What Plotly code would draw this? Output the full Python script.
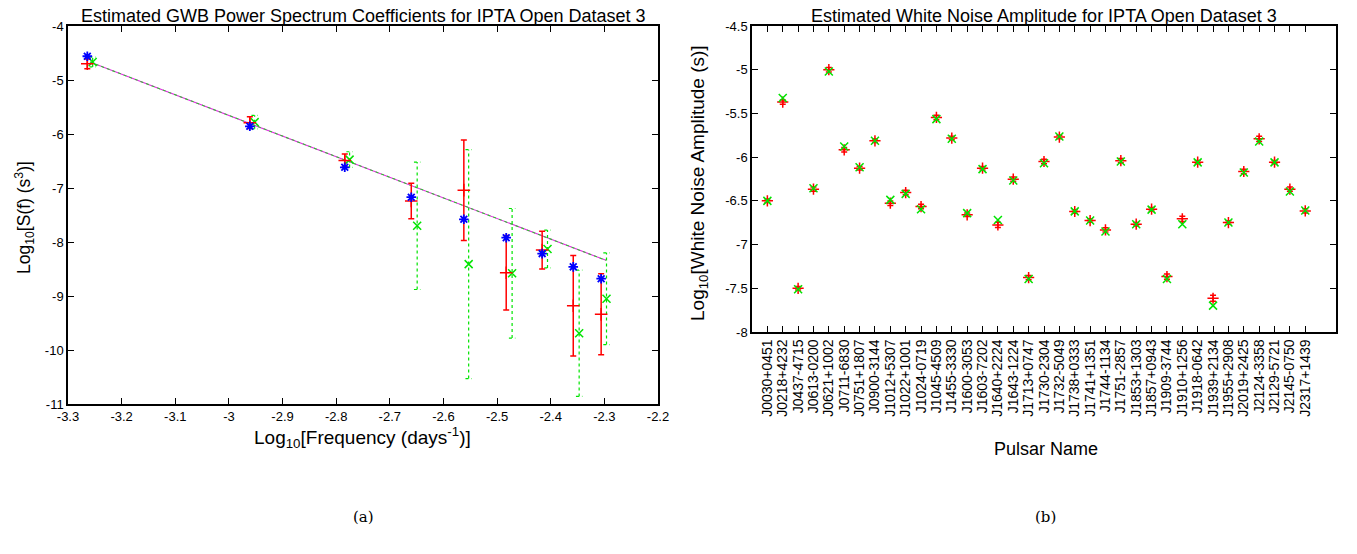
import plotly.graph_objects as go

# ---------------- Data: (a) GWB power spectrum ----------------
gwb_est_x = [-3.264, -2.961, -2.784, -2.660, -2.562, -2.483, -2.416, -2.358, -2.306]
gwb_est_y = [-4.56, -5.857, -6.617, -7.17, -7.58, -7.92, -8.215, -8.46, -8.68]

gwb_red_x = [-3.264, -2.961, -2.784, -2.660, -2.562, -2.483, -2.416, -2.358, -2.306]
gwb_red_y = [-4.70, -5.79, -6.49, -7.24, -7.04, -8.57, -8.15, -9.18, -9.34]
gwb_red_err = [0.09, 0.11, 0.12, 0.33, 0.93, 0.69, 0.35, 0.93, 0.75]

gwb_green_x = [-3.254, -2.952, -2.775, -2.649, -2.553, -2.472, -2.406, -2.347, -2.296]
gwb_green_y = [-4.667, -5.78, -6.474, -7.70, -8.41, -8.58, -8.13, -9.69, -9.05]
gwb_green_err = [0.09, 0.125, 0.145, 1.18, 2.12, 1.20, 0.35, 1.17, 0.85]

fit_x = [-3.259, -2.297]
fit_y = [-4.667, -8.34]

freq_ticks = [-3.3, -3.2, -3.1, -3.0, -2.9, -2.8, -2.7, -2.6, -2.5, -2.4, -2.3, -2.2]
freq_tick_text = ["-3.3", "-3.2", "-3.1", "-3", "-2.9", "-2.8", "-2.7", "-2.6", "-2.5", "-2.4", "-2.3", "-2.2"]
spec_ticks = [-11, -10, -9, -8, -7, -6, -5, -4]
spec_tick_text = ["-11", "-10", "-9", "-8", "-7", "-6", "-5", "-4"]

# ---------------- Data: (b) white noise ----------------
pulsars = ["J0030+0451", "J0218+4232", "J0437-4715", "J0613-0200", "J0621+1002", "J0711-6830",
           "J0751+1807", "J0900-3144", "J1012+5307", "J1022+1001", "J1024-0719", "J1045-4509",
           "J1455-3330", "J1600-3053", "J1603-7202", "J1640+2224", "J1643-1224", "J1713+0747",
           "J1730-2304", "J1732-5049", "J1738+0333", "J1741+1351", "J1744-1134", "J1751-2857",
           "J1853+1303", "J1857+0943", "J1909-3744", "J1910+1256", "J1918-0642", "J1939+2134",
           "J1955+2908", "J2019+2425", "J2124-3358", "J2129-5721", "J2145-0750", "J2317+1439"]
wn_red = [-6.50, -5.37, -7.50, -6.366, -5.00, -5.916, -6.126, -5.813, -6.527, -6.405, -6.565, -5.546,
          -5.782, -6.66, -6.126, -6.775, -6.252, -7.378, -6.05, -5.77, -6.622, -6.725, -6.832, -6.04,
          -6.767, -6.595, -7.366, -6.706, -6.057, -7.614, -6.748, -6.164, -5.79, -6.057, -6.366, -6.615]
wn_red_err = [0.02, 0.025, 0.02, 0.025, 0.025, 0.025, 0.02, 0.02, 0.025, 0.025, 0.025, 0.025,
              0.02, 0.02, 0.02, 0.03, 0.025, 0.025, 0.025, 0.02, 0.02, 0.02, 0.025, 0.025,
              0.02, 0.02, 0.03, 0.03, 0.02, 0.035, 0.02, 0.025, 0.03, 0.02, 0.025, 0.025]
wn_green = [-6.50, -5.324, -7.51, -6.355, -5.02, -5.878, -6.115, -5.813, -6.489, -6.42, -6.595, -5.565,
            -5.79, -6.64, -6.137, -6.718, -6.267, -7.393, -6.07, -5.763, -6.62, -6.725, -6.85, -6.05,
            -6.767, -6.60, -7.393, -6.767, -6.06, -7.698, -6.748, -6.176, -5.82, -6.06, -6.393, -6.61]
wn_ticks = [-8, -7.5, -7, -6.5, -6, -5.5, -5, -4.5]
wn_tick_text = ["-8", "-7.5", "-7", "-6.5", "-6", "-5.5", "-5", "-4.5"]

# ---------------- Layout geometry ----------------
BODY = 8                    # default page body margin around the plot div
W = 1341
H = 530
FONT = "Liberation Sans, Arial, Helvetica, sans-serif"
RED = "#ff0000"
GREEN = "#00e400"
BLUE = "#0000ff"
MAGENTA = "#e030e0"


def px_x(p):
    return (p - BODY) / W


def px_y(p):
    return 1 - (p - BODY) / H


fig = go.Figure()

# --- (a) fit lines (magenta + green dashed, overlapping)
fig.add_trace(go.Scatter(x=fit_x, y=fit_y, mode="lines", xaxis="x", yaxis="y",
                         line=dict(color=MAGENTA, width=1.1), showlegend=False, hoverinfo="skip"))
fig.add_trace(go.Scatter(x=fit_x, y=fit_y, mode="lines", xaxis="x", yaxis="y",
                         line=dict(color="#30c030", width=1.1, dash="3px,3px"), showlegend=False,
                         hoverinfo="skip"))

# --- (a) green dotted error bars built from the data
cap = 0.006
gx, gy = [], []
for x, y, e in zip(gwb_green_x, gwb_green_y, gwb_green_err):
    lo, hi = y - e, y + e
    gx += [x, x, None, x - cap, x + cap, None, x - cap, x + cap, None]
    gy += [lo, hi, None, lo, lo, None, hi, hi, None]
fig.add_trace(go.Scatter(x=gx, y=gy, mode="lines", xaxis="x", yaxis="y",
                         line=dict(color=GREEN, width=1.2, dash="dot"), showlegend=False,
                         hoverinfo="skip"))
fig.add_trace(go.Scatter(x=gwb_green_x, y=gwb_green_y, mode="markers", xaxis="x", yaxis="y",
                         marker=dict(symbol="x-thin-open", size=8, color=GREEN,
                                     line=dict(color=GREEN, width=1.5)),
                         showlegend=False))

# --- (a) red error bars
fig.add_trace(go.Scatter(x=gwb_red_x, y=gwb_red_y, mode="markers", xaxis="x", yaxis="y",
                         error_y=dict(type="data", array=gwb_red_err, color=RED, thickness=1.5, width=3),
                         marker=dict(symbol="cross-thin-open", size=9, color=RED,
                                     line=dict(color=RED, width=1.5)),
                         showlegend=False))

# --- (a) blue estimated points
fig.add_trace(go.Scatter(x=gwb_est_x, y=gwb_est_y, mode="markers", xaxis="x", yaxis="y",
                         marker=dict(symbol="asterisk-open", size=8, color=BLUE,
                                     line=dict(color=BLUE, width=1.8)),
                         showlegend=False))

# --- (b) white noise
idx = list(range(1, len(pulsars) + 1))
fig.add_trace(go.Scatter(x=idx, y=wn_red, mode="markers", xaxis="x2", yaxis="y2",
                         error_y=dict(type="data", array=wn_red_err, color=RED, thickness=1.5, width=3),
                         marker=dict(symbol="cross-thin-open", size=8, color=RED,
                                     line=dict(color=RED, width=1.5)),
                         showlegend=False))
fig.add_trace(go.Scatter(x=idx, y=wn_green, mode="markers", xaxis="x2", yaxis="y2",
                         marker=dict(symbol="x-thin-open", size=8, color=GREEN,
                                     line=dict(color=GREEN, width=1.5)),
                         showlegend=False))

axis_common = dict(showline=True, linecolor="black", linewidth=1.5, mirror="ticks",
                   ticks="inside", ticklen=6, tickwidth=1, tickcolor="black",
                   showgrid=False, zeroline=False, automargin=False,
                   tickfont=dict(family=FONT, size=13, color="black"))

fig.update_layout(
    width=W, height=H,
    margin=dict(l=0, r=0, t=0, b=0),
    paper_bgcolor="white", plot_bgcolor="white",
    font=dict(family=FONT, color="black"),
    xaxis=dict(domain=[px_x(68), px_x(658)], range=[-3.3, -2.2], anchor="y",
               tickvals=freq_ticks, ticktext=freq_tick_text, **axis_common),
    yaxis=dict(domain=[px_y(404), px_y(26)], range=[-11, -4], anchor="x",
               tickvals=spec_ticks, ticktext=spec_tick_text, **axis_common),
    xaxis2=dict(domain=[px_x(752), px_x(1336)], range=[0, 38], anchor="y2",
                tickvals=idx, ticktext=pulsars, tickangle=-90, **axis_common),
    yaxis2=dict(domain=[px_y(332), px_y(26)], range=[-8, -4.5], anchor="x2",
                tickvals=wn_ticks, ticktext=wn_tick_text, **axis_common),
)
fig.update_layout(xaxis2_tickfont_size=14)

ann = [
    dict(text="Estimated GWB Power Spectrum Coefficients for IPTA Open Dataset 3",
         x=px_x(363), y=px_y(16), size=18),
    dict(text="Estimated White Noise Amplitude for IPTA Open Dataset 3",
         x=px_x(1044), y=px_y(16), size=18),
    dict(text="Log<sub>10</sub>[Frequency (days<sup>-1</sup>)]", x=px_x(362), y=px_y(437), size=19),
    dict(text="Pulsar Name", x=px_x(1046), y=px_y(449), size=18),
]
annotations = []
for a in ann:
    annotations.append(dict(text=a["text"], x=a["x"], y=a["y"], xref="paper", yref="paper",
                            showarrow=False, xanchor="center", yanchor="middle",
                            font=dict(family=FONT, size=a["size"], color="black")))
annotations.append(dict(text="Log<sub>10</sub>[S(f) (s<sup>3</sup>)]", x=px_x(24), y=px_y(218),
                        xref="paper", yref="paper", showarrow=False, textangle=-90,
                        xanchor="center", yanchor="middle",
                        font=dict(family=FONT, size=17.5, color="black")))
annotations.append(dict(text="Log<sub>10</sub>[White Noise Amplitude (s)]", x=px_x(699), y=px_y(183),
                        xref="paper", yref="paper", showarrow=False, textangle=-90,
                        xanchor="center", yanchor="middle",
                        font=dict(family=FONT, size=19, color="black")))
for t, xc in (("(a)", 363), ("(b)", 1045)):
    annotations.append(dict(text=t, x=px_x(xc), y=px_y(517), xref="paper", yref="paper",
                            showarrow=False, xanchor="center", yanchor="middle",
                            font=dict(family="DejaVu Serif, Liberation Serif, serif", size=15,
                                      color="black")))
fig.update_layout(annotations=annotations)

fig.write_html("out.html")
